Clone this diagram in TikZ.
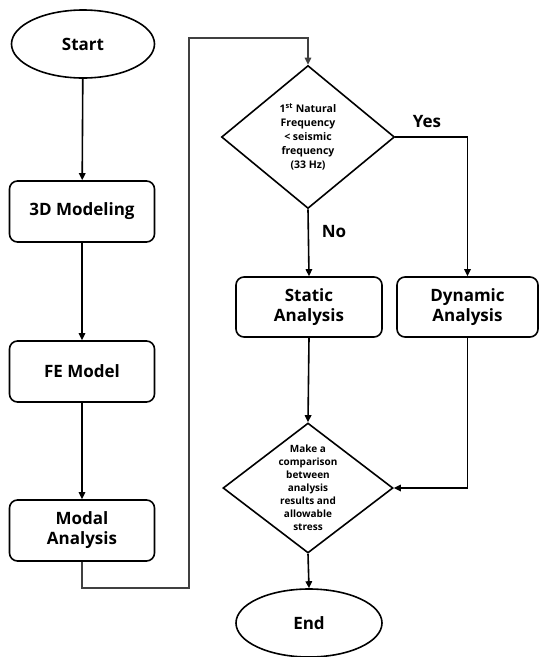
\documentclass[tikz,border=0pt]{standalone}
\usepackage{fontspec}
\setmainfont{Open Sans}
\usetikzlibrary{shapes.geometric,arrows.meta,positioning}
\tikzset{
  base/.style={draw=black, line width=1.6pt, font=\bfseries\fontsize{17}{20}\selectfont, align=center, inner sep=0pt},
  term/.style={base, ellipse},
  procbox/.style={base, rectangle, rounded corners=8pt},
  dia/.style={draw=black, line width=1.6pt, diamond, inner sep=0pt},
  dtext/.style={font=\bfseries\fontsize{10}{13}\selectfont, align=center, inner sep=0pt},
  lab/.style={font=\bfseries\fontsize{17}{20}\selectfont, inner sep=0pt},
  conn/.style={line width=1.6pt, -{Triangle[length=7pt,width=6.5pt]}},
}
\begin{document}
\begin{tikzpicture}[x=1pt,y=-1pt]
\useasboundingbox (0,0) rectangle (539,657);
\node[term, minimum width=143pt, minimum height=68pt] (start) at (83,44) {Start};
\node[procbox, minimum width=145pt, minimum height=61pt] (m3d) at (82,211.5) {3D Modeling};
\node[procbox, minimum width=145pt, minimum height=61pt] (fe) at (82,371.5) {FE Model};
\node[procbox, minimum width=145pt, minimum height=61pt] (modal) at (82,530.5) {Modal\\Analysis};
\node[dia, minimum width=173pt, minimum height=143pt] (dec1) at (308,137) {};
\node[dtext, font=\bfseries\fontsize{10.5}{14}\selectfont] (dec1t) at (dec1.center) {1\textsuperscript{st} Natural\\Frequency\\< seismic\\frequency\\(33 Hz)};
\node[procbox, minimum width=146pt, minimum height=60pt] (static) at (309,307) {Static\\Analysis};
\node[procbox, minimum width=141pt, minimum height=60pt] (dynamic) at (467.5,307) {Dynamic\\Analysis};
\node[dia, minimum width=170pt, minimum height=130pt] (dec2) at (308,488) {};
\node[dtext] (dec2t) at (dec2.center) {Make a\\comparison\\between\\analysis\\results and\\allowable\\stress};
\node[term, minimum width=146pt, minimum height=68pt] (end) at (309,623) {End};
\node[lab] (yes) at (427,122) {Yes};
\node[lab] (no) at (334,232) {No};
\coordinate (c1) at (82,588);
\coordinate (c2) at (189,588);
\coordinate (c3) at (189,38);
\coordinate (c4) at (308,38);
\draw[conn] (start) -- (m3d);
\draw[conn] (m3d) -- (fe);
\draw[conn] (fe) -- (modal);
\draw[conn, line width=1.2pt, draw=black!75] (modal.south) -- (c1) -- (c2) -- (c3) -- (c4) -- (dec1.north);
\draw[conn] (dec1.south) -- (static.north);
\draw[conn] (dec1.east) -| (dynamic.north);
\draw[conn] (static.south) -- (dec2.north);
\draw[conn] (dynamic.south) |- (dec2.east);
\draw[conn] (dec2.south) -- (end.north);
\end{tikzpicture}
\end{document}
